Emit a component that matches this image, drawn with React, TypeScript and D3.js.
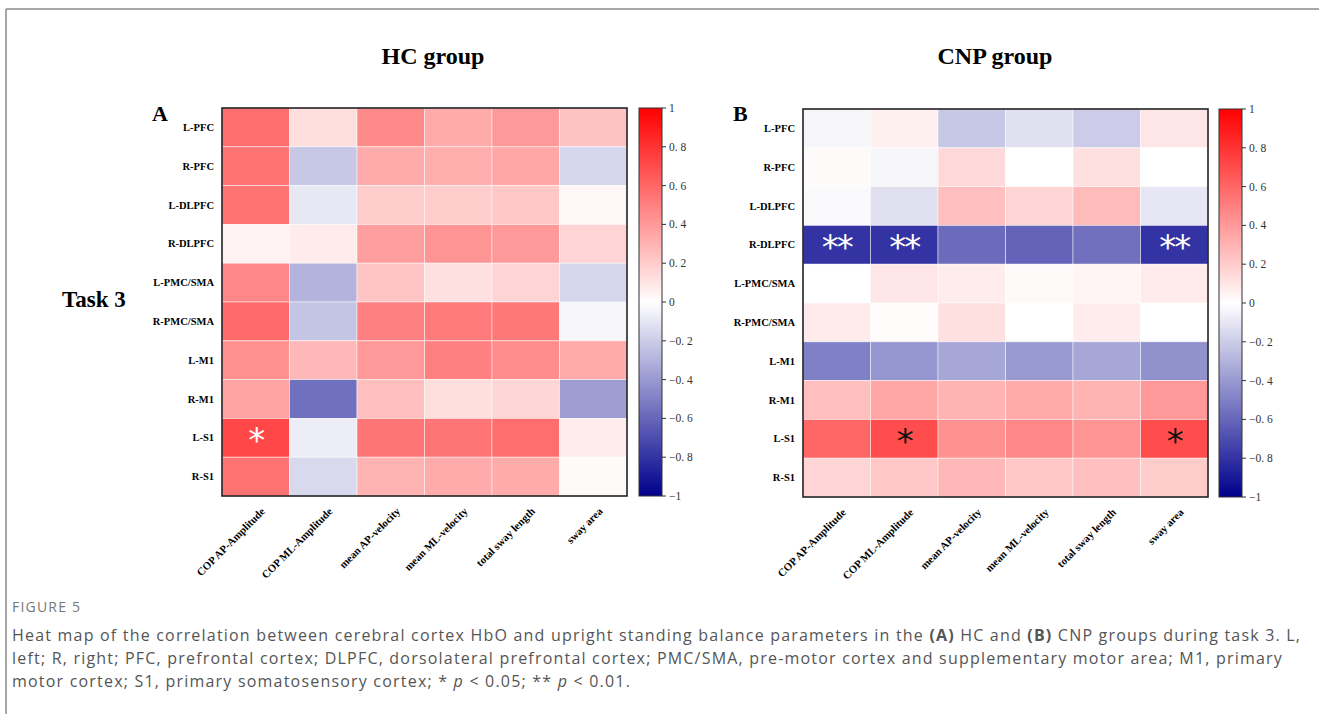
import React from "react";
import * as d3 from "d3";

const regions = ["L-PFC", "R-PFC", "L-DLPFC", "R-DLPFC", "L-PMC/SMA", "R-PMC/SMA", "L-M1", "R-M1", "L-S1", "R-S1"];
const params = ["COP AP-Amplitude", "COP ML-Amplitude", "mean AP-velocity", "mean ML-velocity", "total sway length", "sway area"];

// correlation coefficients (rows = regions, cols = params)
const hcValues = [
  [0.57, 0.13, 0.46, 0.33, 0.4, 0.24],
  [0.55, -0.22, 0.33, 0.32, 0.35, -0.16],
  [0.55, -0.09, 0.2, 0.2, 0.22, 0.03],
  [0.05, 0.08, 0.38, 0.42, 0.4, 0.17],
  [0.47, -0.3, 0.23, 0.12, 0.17, -0.16],
  [0.58, -0.23, 0.5, 0.52, 0.53, -0.04],
  [0.43, 0.28, 0.4, 0.5, 0.45, 0.33],
  [0.36, -0.56, 0.25, 0.13, 0.16, -0.38],
  [0.72, -0.07, 0.54, 0.54, 0.57, 0.07],
  [0.55, -0.15, 0.3, 0.33, 0.33, 0.02],
];
const cnpValues = [
  [-0.04, 0.06, -0.22, -0.12, -0.2, 0.1],
  [0.02, -0.04, 0.15, 0.0, 0.12, 0.0],
  [-0.02, -0.12, 0.25, 0.17, 0.27, -0.1],
  [-0.8, -0.8, -0.58, -0.61, -0.56, -0.8],
  [0.0, 0.1, 0.07, 0.02, 0.04, 0.08],
  [0.08, 0.01, 0.12, 0.0, 0.07, 0.0],
  [-0.5, -0.41, -0.35, -0.4, -0.35, -0.43],
  [0.25, 0.35, 0.3, 0.33, 0.3, 0.4],
  [0.6, 0.7, 0.43, 0.47, 0.42, 0.7],
  [0.17, 0.22, 0.28, 0.22, 0.25, 0.2],
];
// significance marks [row, col, mark]
const hcSig: [number, number, string][] = [[8, 0, "*"]];
const cnpSig: [number, number, string][] = [
  [3, 0, "**"], [3, 1, "**"], [3, 5, "**"],
  [8, 1, "*"], [8, 5, "*"],
];
const colorTicks = [1, 0.8, 0.6, 0.4, 0.2, 0, -0.2, -0.4, -0.6, -0.8, -1];

const color = d3.scaleLinear<string>()
  .domain([-1, 0, 1])
  .range(["#00008c", "#ffffff", "#ff0000"])
  .interpolate(d3.interpolateRgb);

const serif = "'Liberation Serif', 'Times New Roman', serif";
const fmt = (d: number) => (d === 0 ? "0" : Number.isInteger(d) ? d3.format("d")(d) : d3.format(".1f")(d).replace(".", ". "));

type PanelProps = {
  id: string;
  letter: string;
  title: string;
  titleX: number;
  left: number;
  top: number;
  values: number[][];
  sig: [number, number, string][];
  sigColor: (v: number) => string;
  barX: number;
};

const Panel = ({ id, letter, title, titleX, left, top, values, sig, sigColor, barX }: PanelProps) => {
  const width = 405;
  const height = 388;
  const x = d3.scaleBand().domain(params).range([left, left + width]);
  const y = d3.scaleBand().domain(regions).range([top, top + height]);
  const cb = d3.scaleLinear().domain([-1, 1]).range([top + height, top]);
  const gid = `grad-${id}`;

  return (
    <g>
      <defs>
        <linearGradient id={gid} x1="0" y1="1" x2="0" y2="0">
          {d3.range(0, 1.0001, 0.05).map((t) => (
            <stop key={t} offset={`${t * 100}%`} stopColor={color(t * 2 - 1)} />
          ))}
        </linearGradient>
      </defs>
      <text x={titleX} y={64} textAnchor="middle" fontFamily={serif} fontWeight="bold" fontSize={24}>
        {title}
      </text>
      <text x={left - 70} y={121} fontFamily={serif} fontWeight="bold" fontSize={22}>
        {letter}
      </text>
      {values.map((row, i) =>
        row.map((v, j) => (
          <rect
            key={`${i}-${j}`}
            x={x(params[j])}
            y={y(regions[i])}
            width={x.bandwidth()}
            height={y.bandwidth()}
            fill={color(v)}
            stroke="rgba(255,255,255,0.6)"
            strokeWidth={0.8}
          />
        ))
      )}
      {sig.map(([i, j, m]) => (
        <text
          key={`s-${i}-${j}`}
          x={(x(params[j]) ?? 0) + x.bandwidth() / 2}
          y={(y(regions[i]) ?? 0) + y.bandwidth() / 2 + 14}
          textAnchor="middle"
          fontFamily="'DejaVu Sans', sans-serif"
          fontSize={34}
          fill={sigColor(values[i][j])}
          letterSpacing={-2}
        >
          {m}
        </text>
      ))}
      <rect x={left} y={top} width={width} height={height} fill="none" stroke="#222" strokeWidth={1.6} />
      {regions.map((r) => (
        <text
          key={r}
          x={left - 8}
          y={(y(r) ?? 0) + y.bandwidth() / 2 + 3.5}
          textAnchor="end"
          fontFamily={serif}
          fontWeight="bold"
          fontSize={10.5}
        >
          {r}
        </text>
      ))}
      {params.map((p) => {
        const cx = (x(p) ?? 0) + x.bandwidth() / 2 + 10;
        const cy = top + height + 16;
        return (
          <text
            key={p}
            transform={`translate(${cx},${cy}) rotate(-45)`}
            textAnchor="end"
            fontFamily={serif}
            fontWeight="bold"
            fontSize={10.8}
          >
            {p}
          </text>
        );
      })}
      <rect x={barX} y={top} width={23} height={height} fill={`url(#${gid})`} stroke="#333" strokeWidth={1} />
      {colorTicks.map((t) => (
        <g key={t} transform={`translate(${barX + 23},${cb(t)})`}>
          <line x1={0} x2={4} stroke="#333" strokeWidth={1} />
          <text x={7} y={4} fontFamily={serif} fontSize={11.5} fill="#333">
            {fmt(t)}
          </text>
        </g>
      ))}
    </g>
  );
};

export default function App() {
  return (
    <div style={{ position: "absolute", left: 0, top: 0 }}>
      <svg width={1319} height={714} style={{ display: "block", background: "#fff" }}>
        <line x1={6} y1={9} x2={1319} y2={9} stroke="#8a8a8a" strokeWidth={1.5} />
        <line x1={6} y1={9} x2={6} y2={714} stroke="#8a8a8a" strokeWidth={1.5} />
        <text x={62} y={307} fontFamily={serif} fontWeight="bold" fontSize={23}>
          Task 3
        </text>
        <Panel
          id="hc"
          letter="A"
          title="HC group"
          titleX={433}
          left={222}
          top={108}
          values={hcValues}
          sig={hcSig}
          sigColor={() => "#fff"}
          barX={639}
        />
        <Panel
          id="cnp"
          letter="B"
          title="CNP group"
          titleX={995}
          left={803}
          top={109}
          values={cnpValues}
          sig={cnpSig}
          sigColor={(v) => (v < 0 ? "#fff" : "#111")}
          barX={1219}
        />
        <g fontFamily="'Open Sans', 'Noto Sans', sans-serif" fill="#555">
          <text x={12} y={612} fontSize={14} fill="#777" letterSpacing={1.2}>
            FIGURE 5
          </text>
          <text x={12} y={641} fontSize={16} letterSpacing={1.2}>
            Heat map of the correlation between cerebral cortex HbO and upright standing balance parameters in the{" "}
            <tspan fontWeight="bold">(A)</tspan> HC and <tspan fontWeight="bold">(B)</tspan> CNP groups during task 3. L,
          </text>
          <text x={12} y={664} fontSize={16} letterSpacing={1.2}>
            left; R, right; PFC, prefrontal cortex; DLPFC, dorsolateral prefrontal cortex; PMC/SMA, pre-motor cortex and supplementary motor area; M1, primary
          </text>
          <text x={12} y={687} fontSize={16} letterSpacing={1.2}>
            motor cortex; S1, primary somatosensory cortex; * <tspan fontStyle="italic">p</tspan> &lt; 0.05; **{" "}
            <tspan fontStyle="italic">p</tspan> &lt; 0.01.
          </text>
        </g>
      </svg>
    </div>
  );
}
